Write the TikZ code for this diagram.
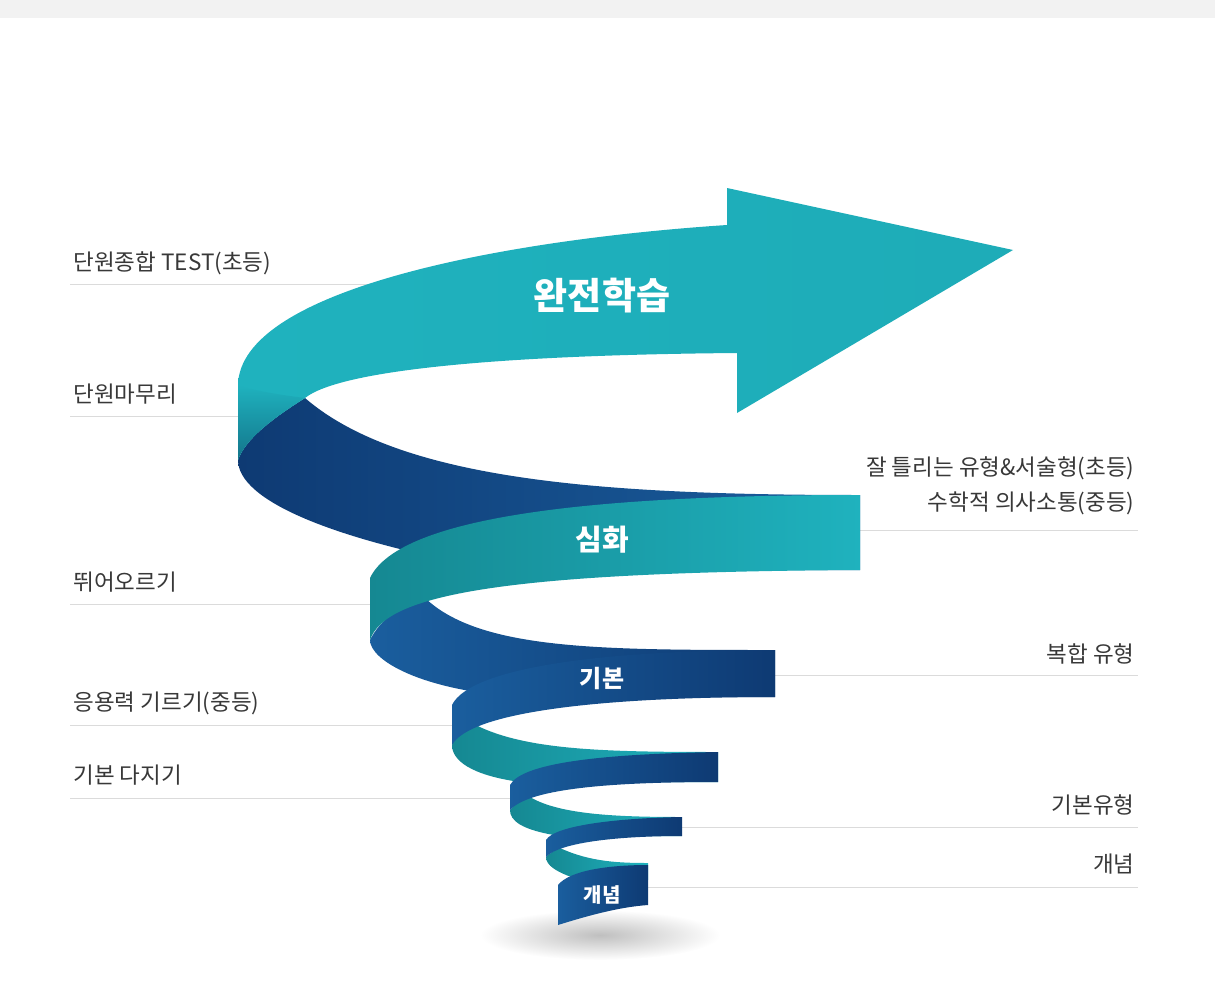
\documentclass[tikz,border=0pt]{standalone}
\usepackage{fontspec}
\setmainfont{Noto Sans CJK KR}
\begin{document}
\begin{tikzpicture}[x=1pt,y=-1pt,
 lbl/.style={font=\fontsize{22.5}{26}\selectfont, text=black!78},
 ln/.style={draw=black!14, line width=0.8pt},
 inner/.style={font=\bfseries\fontsize{24}{28}\selectfont, text=white},
]
\definecolor{tA}{HTML}{1FB2BE}\definecolor{tB}{HTML}{158892}
\definecolor{dA}{HTML}{0E3A73}\definecolor{dB}{HTML}{1A5E9E}
\tikzset{teal/.style={left color=tA, right color=tB}, tealr/.style={left color=tB, right color=tA},
 dark/.style={left color=dA, right color=dB}, darkr/.style={left color=dB, right color=dA}}
\useasboundingbox (0,0) rectangle (1215,990);
\fill[black!5] (0,0) rectangle (1215,18);
% shadow
\shade[inner color=black!25, outer color=white] (600,935) ellipse [x radius=120, y radius=25];
% left labels
\node[lbl,anchor=base west] (l1) at (70,270) {단원종합 TEST(초등)};
\draw[ln] (70,284) coordinate (l1a) -- (370,284) coordinate (l1b);
\node[lbl,anchor=base west] (l2) at (70,402) {단원마무리};
\draw[ln] (70,416) coordinate (l2a) -- (240,416) coordinate (l2b);
\node[lbl,anchor=base west] (l3) at (70,590) {뛰어오르기};
\draw[ln] (70,604) coordinate (l3a) -- (372,604) coordinate (l3b);
\node[lbl,anchor=base west] (l4) at (70,710) {응용력 기르기(중등)};
\draw[ln] (70,725) coordinate (l4a) -- (455,725) coordinate (l4b);
\node[lbl,anchor=base west] (l5) at (70,783) {기본 다지기};
\draw[ln] (70,798) coordinate (l5a) -- (512,798) coordinate (l5b);
% right labels
\node[lbl,anchor=base east] (r1) at (1138,475) {잘 틀리는 유형\&서술형(초등)};
\node[lbl,anchor=base east] (r1b) at (1138,510) {수학적 의사소통(중등)};
\draw[ln] (858,530) coordinate (r1a) -- (1138,530) coordinate (r1c);
\node[lbl,anchor=base east] (r2) at (1138,662) {복합 유형};
\draw[ln] (773,675) coordinate (r2a) -- (1138,675) coordinate (r2c);
\node[lbl,anchor=base east] (r3) at (1138,813) {기본유형};
\draw[ln] (680,827) coordinate (r3a) -- (1138,827) coordinate (r3c);
\node[lbl,anchor=base east] (r4) at (1138,872) {개념};
\draw[ln] (646,887) coordinate (r4a) -- (1138,887) coordinate (r4c);
% back segments
\shade[dark] (238,460) .. controls (245,440) and (270,420) .. (305,398) .. controls (400,480) and (600,495) .. (860,495) -- (860,570) -- (500,570) .. controls (330,540) and (238,500) .. (238,460) -- cycle;
\shade[darkr] (425,598) .. controls (480,650) and (600,650) .. (775,650) -- (775,697) -- (520,697) .. controls (420,690) and (370,660) .. (370,640) .. controls (380,620) and (400,605) .. (425,598) -- cycle;
\shade[tealr] (470,722) .. controls (520,750) and (600,752) .. (718,752) -- (718,782) -- (520,782) .. controls (470,775) and (452,760) .. (452,745) .. controls (455,735) and (462,727) .. (470,722) -- cycle;
\shade[tealr] (530,797) .. controls (560,815) and (620,817) .. (682,817) -- (682,836) -- (560,836) .. controls (520,830) and (510,820) .. (510,810) .. controls (515,804) and (522,800) .. (530,797) -- cycle;
\shade[tealr] (560,848) .. controls (590,862) and (620,863) .. (648,863) -- (648,880) -- (580,880) .. controls (555,872) and (546,865) .. (546,857) .. controls (550,853) and (555,850) .. (560,848) -- cycle;
% front segments
\shade[left color=tA, right color=tA!85!tB] (238,385) .. controls (240,290) and (500,240) .. (727,225) -- (727,188) -- (1013,250) -- (737,413) -- (737,353) .. controls (500,355) and (340,370) .. (305,398) .. controls (270,420) and (245,440) .. (238,460) -- cycle;
\shade[top color=tA, bottom color=tB!75!dA] (238,385) -- (238,460) .. controls (245,440) and (270,420) .. (305,398) .. controls (280,395) and (250,390) .. (238,385) -- cycle;
\shade[tealr] (860,495) .. controls (600,495) and (400,515) .. (370,578) -- (370,640) .. controls (385,595) and (500,572) .. (860,570) -- cycle;
\shade[darkr] (775,650) .. controls (600,650) and (470,668) .. (452,705) -- (452,745) .. controls (470,712) and (600,697) .. (775,697) -- cycle;
\shade[darkr] (718,752) .. controls (600,754) and (522,763) .. (510,785) -- (510,810) .. controls (528,790) and (600,782) .. (718,782) -- cycle;
\shade[darkr] (682,817) .. controls (620,818) and (555,825) .. (546,840) -- (546,857) .. controls (560,842) and (620,836) .. (682,836) -- cycle;
\shade[darkr] (648,865) .. controls (610,865) and (570,870) .. (558,885) -- (558,925) .. controls (590,915) and (620,907) .. (648,905) -- cycle;
% labels on ribbon
\node[inner,font=\bfseries\fontsize{37}{42}\selectfont] (t1) at (602,296) {완전학습};
\node[inner,font=\bfseries\fontsize{29}{34}\selectfont] (t2) at (602,540) {심화};
\node[inner] (t3) at (602,678) {기본};
\node[inner,font=\bfseries\fontsize{20}{24}\selectfont] (t4) at (602,895) {개념};
\end{tikzpicture}
\end{document}
